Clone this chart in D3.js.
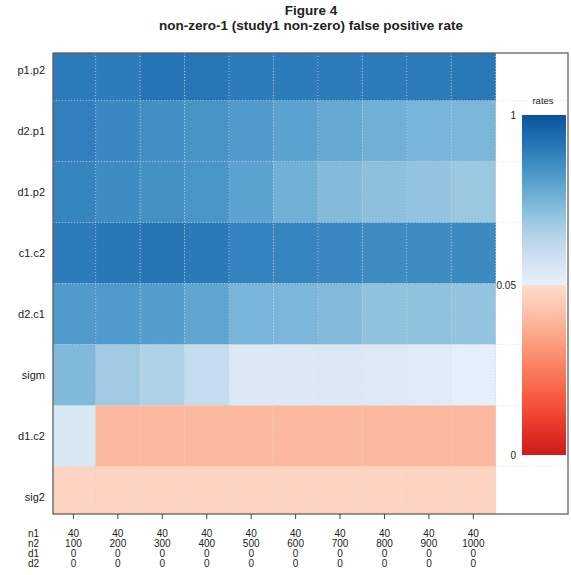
<!DOCTYPE html>
<html>
<head>
<meta charset="utf-8">
<script src="https://cdn.jsdelivr.net/npm/d3@7"></script>
<style>
  body { margin: 0; background: #fff; }
  text { font-family: "Liberation Sans", Arial, sans-serif; fill: #222; }
</style>
</head>
<body>
<div id="chart"></div>
<script>
// rows top to bottom
const rowNames = ["p1.p2", "d2.p1", "d1.p2", "c1.c2", "d2.c1", "sigm", "d1.c2", "sig2"];
// column labels (one line each)
const n1 = [40, 40, 40, 40, 40, 40, 40, 40, 40, 40];
const n2 = [100, 200, 300, 400, 500, 600, 700, 800, 900, 1000];
const d1 = [0, 0, 0, 0, 0, 0, 0, 0, 0, 0];
const d2 = [0, 0, 0, 0, 0, 0, 0, 0, 0, 0];

// false positive rates
const rateP1P2 = [0.810, 0.810, 0.840, 0.830, 0.810, 0.810, 0.810, 0.810, 0.810, 0.820];
const rateD2P1 = [0.785, 0.750, 0.716, 0.692, 0.655, 0.618, 0.581, 0.544, 0.519, 0.507];
const rateD1P2 = [0.766, 0.729, 0.704, 0.679, 0.618, 0.544, 0.482, 0.457, 0.432, 0.408];
const rateC1C2 = [0.810, 0.825, 0.835, 0.815, 0.775, 0.765, 0.750, 0.729, 0.729, 0.741];
const rateD2C1 = [0.655, 0.655, 0.642, 0.605, 0.519, 0.507, 0.482, 0.445, 0.445, 0.432];
const rateSigm = [0.494, 0.395, 0.334, 0.247, 0.124, 0.124, 0.124, 0.120, 0.099, 0.062];
const rateD1C2 = [0.136, 0.040, 0.040, 0.040, 0.040, 0.040, 0.040, 0.040, 0.040, 0.040];
const rateSig2 = [0.047, 0.047, 0.047, 0.047, 0.047, 0.047, 0.047, 0.047, 0.047, 0.047];

const rates = [rateP1P2, rateD2P1, rateD1P2, rateC1C2, rateD2C1, rateSigm, rateD1C2, rateSig2];
const legendTicks = [0, 0.05, 1];

const W = 571, H = 575;
const panel = { left: 53, right: 568, top: 53, bottom: 514 };

const svg = d3.select("#chart").append("svg")
  .attr("width", W)
  .attr("height", H);

// colour: blues above 0.05, reds below
function color(v) {
  if (v >= 0.05) {
    const s = (v - 0.05) / 0.95;
    return d3.interpolateBlues(0.08 + 0.79 * s);
  }
  const r = 1 - v / 0.05;
  return d3.interpolateReds(0.13 + 0.62 * r);
}

const x = d3.scaleLinear().domain([0.54, 12.13]).range([panel.left, panel.right]);
const y = d3.scaleLinear().domain([0.72, 8.28]).range([panel.top, panel.bottom]);

const defs = svg.append("defs");
defs.append("clipPath").attr("id", "clip")
  .append("rect")
  .attr("x", panel.left).attr("y", panel.top)
  .attr("width", panel.right - panel.left)
  .attr("height", panel.bottom - panel.top);

const cells = [];
rates.forEach((row, i) => row.forEach((v, j) => cells.push({ r: i + 1, c: j + 1, v: v })));

const plot = svg.append("g").attr("clip-path", "url(#clip)");

plot.selectAll("rect.cell")
  .data(cells)
  .enter()
  .append("rect")
  .attr("class", "cell")
  .attr("x", d => x(d.c - 0.5))
  .attr("y", d => y(d.r - 0.5))
  .attr("width", d => x(d.c + 0.5) - x(d.c - 0.5) + 0.3)
  .attr("height", d => y(d.r + 0.5) - y(d.r - 0.5) + 0.3)
  .attr("fill", d => color(d.v));

// dotted grid
const hLines = d3.range(1, rowNames.length).map(k => k + 0.5);
const vLines = d3.range(1, n2.length + 1).map(k => k + 0.5);

plot.selectAll("line.hgrid")
  .data(hLines)
  .enter()
  .append("line")
  .attr("x1", panel.left).attr("x2", panel.right)
  .attr("y1", d => y(d)).attr("y2", d => y(d))
  .attr("stroke", "#d4d4d4")
  .attr("stroke-opacity", 0.7)
  .attr("stroke-dasharray", "1,2");

plot.selectAll("line.vgrid")
  .data(vLines)
  .enter()
  .append("line")
  .attr("x1", d => x(d)).attr("x2", d => x(d))
  .attr("y1", panel.top).attr("y2", panel.bottom)
  .attr("stroke", "#d4d4d4")
  .attr("stroke-opacity", 0.7)
  .attr("stroke-dasharray", "1,2");

// colour key inside the panel
const ky = d3.scaleLinear().domain([0, 0.05, 1]).range([455, 285, 115]);
const keyX = 522, keyW = 44;
const keyOffset = v => (ky(0) - ky(v)) / (ky(0) - ky(1));
// red half, then blue half; two stops at 0.05 give the hard split
const keyStops = d3.range(0, 0.05, 0.0025).map(v => ({ o: keyOffset(v), c: color(v) }))
  .concat([{ o: 0.5, c: color(0.0499) }, { o: 0.5, c: color(0.05) }])
  .concat(d3.range(0.075, 1.0001, 0.025).map(v => ({ o: keyOffset(v), c: color(v) })));

const grad = defs.append("linearGradient")
  .attr("id", "keygrad")
  .attr("x1", 0).attr("y1", 1).attr("x2", 0).attr("y2", 0);
grad.selectAll("stop")
  .data(keyStops)
  .enter()
  .append("stop")
  .attr("offset", d => d.o)
  .attr("stop-color", d => d.c);

svg.append("rect")
  .attr("x", keyX)
  .attr("y", ky(1))
  .attr("width", keyW)
  .attr("height", ky(0) - ky(1))
  .attr("fill", "url(#keygrad)");

svg.selectAll("text.keylab")
  .data(legendTicks)
  .enter()
  .append("text")
  .attr("x", 516)
  .attr("y", d => ky(d) + 3.5)
  .attr("text-anchor", "end")
  .style("font-size", "10px")
  .text(d => d);

svg.append("text")
  .attr("x", 543)
  .attr("y", 104)
  .attr("text-anchor", "middle")
  .style("font-size", "9.5px")
  .text("rates");

// frame
svg.append("rect")
  .attr("x", panel.left).attr("y", panel.top)
  .attr("width", panel.right - panel.left)
  .attr("height", panel.bottom - panel.top)
  .attr("fill", "none")
  .attr("stroke", "#555")
  .attr("stroke-width", 1.2);

// row labels
svg.selectAll("text.rowlab")
  .data(rowNames)
  .enter()
  .append("text")
  .attr("x", 45)
  .attr("y", (d, i) => y(i + 1) + 4)
  .attr("text-anchor", "end")
  .style("font-size", "11px")
  .text(d => d);

// bottom ticks
svg.selectAll("line.xtick")
  .data(n2)
  .enter()
  .append("line")
  .attr("x1", (d, i) => x(i + 1)).attr("x2", (d, i) => x(i + 1))
  .attr("y1", panel.bottom).attr("y2", panel.bottom + 5)
  .attr("stroke", "#444");

// multi-line column labels
const labelRows = [["n1", n1], ["n2", n2], ["d1", d1], ["d2", d2]];
labelRows.forEach(([name, vals], k) => {
  const by = 537 + k * 10;
  svg.append("text")
    .attr("x", 28)
    .attr("y", by)
    .style("font-size", "10px")
    .text(name);
  svg.selectAll("text.col" + k)
    .data(vals)
    .enter()
    .append("text")
    .attr("x", (d, i) => x(i + 1))
    .attr("y", by)
    .attr("text-anchor", "middle")
    .style("font-size", "10px")
    .text(d => d);
});

// titles
svg.append("text")
  .attr("x", 311)
  .attr("y", 15)
  .attr("text-anchor", "middle")
  .style("font-size", "13.5px")
  .style("font-weight", "bold")
  .text("Figure 4");

svg.append("text")
  .attr("x", 311)
  .attr("y", 30)
  .attr("text-anchor", "middle")
  .style("font-size", "13.5px")
  .style("font-weight", "bold")
  .text("non-zero-1 (study1 non-zero) false positive rate");
</script>
</body>
</html>
